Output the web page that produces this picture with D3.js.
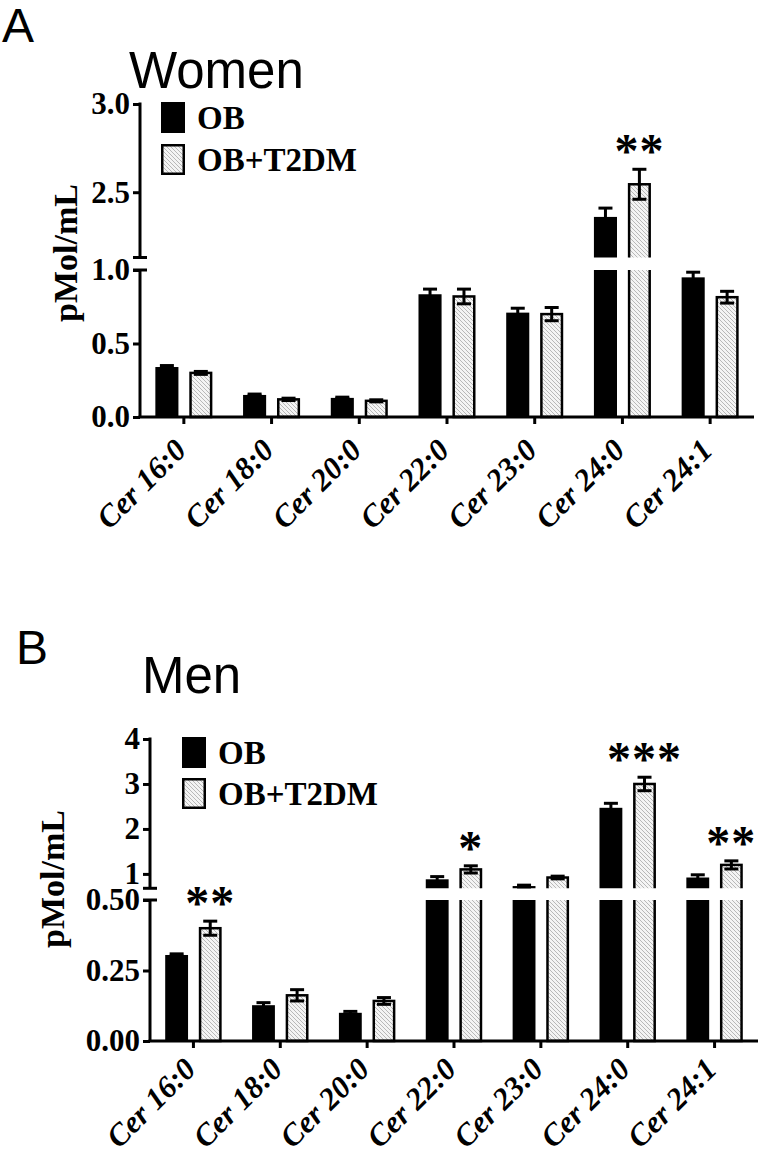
<!DOCTYPE html>
<html><head><meta charset="utf-8">
<script src="https://cdn.jsdelivr.net/npm/d3@7"></script>
<style>
html,body{margin:0;padding:0;background:#fff;}
svg{display:block;}
.serif{font-family:"Liberation Serif","Times New Roman",serif;font-weight:bold;}
.sans{font-family:"Liberation Sans",Arial,sans-serif;}
</style></head>
<body>
<script>
// ---------- data ----------
const categories = ["Cer 16:0","Cer 18:0","Cer 20:0","Cer 22:0","Cer 23:0","Cer 24:0","Cer 24:1"];
const seriesNames = ["OB","OB+T2DM"];

const womenOB      = [0.34, 0.15, 0.13, 0.835, 0.71, 2.36, 0.95];
const womenOBErr   = [0.01, 0.006, 0.005, 0.035, 0.03, 0.05, 0.035];
const womenT2DM    = [0.30, 0.12, 0.11, 0.82, 0.70, 2.545, 0.815];
const womenT2DMErr = [0.01, 0.008, 0.007, 0.05, 0.045, 0.085, 0.04];
const womenStars   = ["", "", "", "", "", "**", ""];

const menOB        = [0.305, 0.127, 0.10, 0.88, 0.73, 2.47, 0.92];
const menOBErr     = [0.004, 0.009, 0.005, 0.06, 0.02, 0.10, 0.06];
const menT2DM      = [0.40, 0.162, 0.142, 1.10, 0.92, 3.00, 1.20];
const menT2DMErr   = [0.025, 0.02, 0.012, 0.08, 0.03, 0.15, 0.09];
const menStars     = ["**", "", "", "*", "", "***", "**"];

const womenLowerTicks = [0, 0.5, 1.0];
const womenUpperTicks = [2.5, 3.0];
const womenLowerDomain = [0, 1.0];
const womenUpperDomain = [2.13, 3.0];

const menLowerTicks = [0, 0.25, 0.5];
const menUpperTicks = [1, 2, 3, 4];
const menLowerDomain = [0, 0.5];
const menUpperDomain = [0.68, 4];

// ---------- drawing ----------
const W = 762, H = 1153;
const svg = d3.select("body").append("svg").attr("width", W).attr("height", H);
const defs = svg.append("defs");
const pat = defs.append("pattern").attr("id","hatch").attr("patternUnits","userSpaceOnUse")
  .attr("width",4).attr("height",4);
pat.append("rect").attr("width",4).attr("height",4).attr("fill","#f4f4f4");
pat.append("path").attr("d","M-1,-1 L5,5 M-1,3 L1,5 M3,-1 L5,1")
  .attr("stroke","#b8b8b8").attr("stroke-width",1);

function panel(cfg) {
  const g = svg.append("g");
  const x0 = d3.scaleBand().domain(categories).range([cfg.axisX, cfg.axisEnd]).paddingInner(0.35).paddingOuter(0.175);
  const x1 = d3.scaleBand().domain(seriesNames).range([0, x0.bandwidth()]).paddingInner(0.32);
  const yL = d3.scaleLinear().domain(cfg.lowerDomain).range([cfg.axisY, cfg.lowerTop]);
  const yU = d3.scaleLinear().domain(cfg.upperDomain).range([cfg.upperBottom, cfg.upperTop]);
  const lowerMax = cfg.lowerDomain[1];
  const yPos = v => v <= lowerMax ? yL(v) : yU(v);

  const idL = cfg.id + "L", idU = cfg.id + "U";
  defs.append("clipPath").attr("id", idL).append("rect")
    .attr("x", 0).attr("width", W).attr("y", cfg.lowerTop).attr("height", cfg.axisY - cfg.lowerTop + 5);
  defs.append("clipPath").attr("id", idU).append("rect")
    .attr("x", 0).attr("width", W).attr("y", 0).attr("height", cfg.upperBottom);

  const gL = g.append("g").attr("clip-path", `url(#${idL})`);
  const gU = g.append("g").attr("clip-path", `url(#${idU})`);

  const series = [
    {name: seriesNames[0], vals: cfg.ob, errs: cfg.obErr},
    {name: seriesNames[1], vals: cfg.t2, errs: cfg.t2Err}
  ];
  const rows = [];
  series.forEach((s, si) => {
    categories.forEach((c, i) => rows.push({c, si, name: s.name, v: s.vals[i], e: s.errs[i]}));
  });

  function drawRect(sel, r, yTop, yBot) {
    const bx = x0(r.c) + x1(r.name);
    const bw = x1.bandwidth();
    if (r.si === 0) {
      sel.append("rect").attr("x", bx).attr("y", yTop).attr("width", bw).attr("height", yBot - yTop).attr("fill", "#000");
    } else {
      sel.append("rect").attr("x", bx + 1.25).attr("y", yTop).attr("width", bw - 2.5).attr("height", yBot - yTop)
        .attr("fill", "url(#hatch)").attr("stroke", "#000").attr("stroke-width", 2.5);
    }
  }

  rows.forEach(r => {
    if (r.v <= lowerMax) {
      drawRect(gL, r, yL(r.v), cfg.axisY);
    } else {
      drawRect(gL, r, cfg.lowerTop - 10, cfg.axisY);
      drawRect(gU, r, yU(r.v), cfg.upperBottom + 10);
    }
  });

  // error bars
  rows.forEach(r => {
    const cx = x0(r.c) + x1(r.name) + x1.bandwidth() / 2;
    const yt = yPos(r.v + r.e), yb = yPos(r.v - r.e);
    const eg = g.append("g").attr("stroke", "#000").attr("stroke-width", 3);
    eg.append("line").attr("x1", cx).attr("x2", cx).attr("y1", yt).attr("y2", yb);
    eg.append("line").attr("x1", cx - 7).attr("x2", cx + 7).attr("y1", yt).attr("y2", yt);
    eg.append("line").attr("x1", cx - 7).attr("x2", cx + 7).attr("y1", yb).attr("y2", yb);
  });

  // significance stars
  categories.forEach((c, i) => {
    if (!cfg.stars[i]) return;
    const cx = x0(c) + x1(seriesNames[1]) + x1.bandwidth() / 2;
    const yt = yPos(cfg.t2[i] + cfg.t2Err[i]);
    g.append("text").attr("class", "serif").attr("x", cx).attr("y", yt - 2)
      .attr("text-anchor", "middle").attr("font-size", 48).attr("font-weight", "normal")
      .style("letter-spacing", "1px").text(cfg.stars[i]);
  });

  // axes
  function styleAxis(sel, fs) {
    sel.selectAll("path,line").attr("stroke", "#000").attr("stroke-width", 3);
    sel.selectAll("text").attr("class", "serif").attr("font-size", fs).attr("fill", "#000");
  }
  const axL = g.append("g").attr("transform", `translate(${cfg.axisX},0)`)
    .call(d3.axisLeft(yL).tickValues(cfg.lowerTicks).tickFormat(d3.format(cfg.lowerFmt)).tickSize(7).tickSizeOuter(0).tickPadding(3));
  styleAxis(axL, cfg.tickFont);
  const axU = g.append("g").attr("transform", `translate(${cfg.axisX},0)`)
    .call(d3.axisLeft(yU).tickValues(cfg.upperTicks).tickFormat(d3.format(cfg.upperFmt)).tickSize(7).tickSizeOuter(0).tickPadding(3));
  styleAxis(axU, cfg.tickFont);
  axL.select(".domain").attr("d", `M0,${cfg.lowerTop}V${cfg.axisY}`);
  axU.select(".domain").attr("d", `M0,${cfg.upperTop - 1.5}V${cfg.upperBottom}`);
  // break marks
  [cfg.upperBottom, cfg.lowerTop].forEach(yy => {
    g.append("line").attr("x1", cfg.axisX - 7).attr("x2", cfg.axisX + 7).attr("y1", yy).attr("y2", yy)
      .attr("stroke", "#000").attr("stroke-width", 3);
  });

  const axX = g.append("g").attr("transform", `translate(0,${cfg.axisY})`)
    .call(d3.axisBottom(x0).tickSize(7).tickSizeOuter(0));
  axX.selectAll("path,line").attr("stroke", "#000").attr("stroke-width", 3);
  axX.select(".domain").attr("d", `M${cfg.axisX - 1.5},0H${cfg.axisEnd}`);
  axX.selectAll("text").attr("class", "serif").attr("font-size", cfg.xFont).attr("font-style", "italic")
    .attr("fill", "#000").attr("text-anchor", "end").attr("dy", null).attr("y", null)
    .attr("transform", `translate(${cfg.xLabDx},${cfg.xLabDy}) rotate(-45)`);

  // y title
  g.append("text").attr("class", "serif").attr("font-size", 34)
    .attr("transform", `translate(${cfg.yTitleX},${cfg.yTitleY}) rotate(-90)`)
    .attr("text-anchor", "middle").text("pMol/mL");

  // titles
  g.append("text").attr("class", "sans").attr("x", cfg.letterX).attr("y", cfg.letterY).attr("font-size", 48).text(cfg.letter);
  g.append("text").attr("class", "sans").attr("x", cfg.titleX).attr("y", cfg.titleY).attr("font-size", 51).text(cfg.title);

  // legend
  const lg = g.append("g");
  seriesNames.forEach((n, i) => {
    const yy = cfg.legY + i * cfg.legStep;
    if (i === 0) lg.append("rect").attr("x", cfg.legX).attr("y", yy).attr("width", 24).attr("height", 31).attr("fill", "#000");
    else lg.append("rect").attr("x", cfg.legX + 1.25).attr("y", yy + 1.25).attr("width", 21.5).attr("height", 28.5)
      .attr("fill", "url(#hatch)").attr("stroke", "#000").attr("stroke-width", 2.5);
    lg.append("text").attr("class", "serif").attr("x", cfg.legX + 36).attr("y", yy + 27).attr("font-size", 33).text(n);
  });
}

panel({
  id: "w", letter: "A", letterX: 2, letterY: 42, title: "Women", titleX: 129, titleY: 88,
  axisX: 140, axisEnd: 754, axisY: 417,
  lowerTop: 270, upperBottom: 257.5, upperTop: 104,
  lowerDomain: womenLowerDomain, upperDomain: womenUpperDomain,
  lowerTicks: womenLowerTicks, upperTicks: womenUpperTicks, lowerFmt: ".1f", upperFmt: ".1f",
  ob: womenOB, obErr: womenOBErr, t2: womenT2DM, t2Err: womenT2DMErr, stars: womenStars,
  tickFont: 31, xFont: 31, xLabDx: 4, xLabDy: 35,
  yTitleX: 77, yTitleY: 253,
  legX: 161, legY: 102, legStep: 42
});

panel({
  id: "m", letter: "B", letterX: 16, letterY: 664, title: "Men", titleX: 142, titleY: 693,
  axisX: 150, axisEnd: 758, axisY: 1041,
  lowerTop: 900, upperBottom: 888.3, upperTop: 739,
  lowerDomain: menLowerDomain, upperDomain: menUpperDomain,
  lowerTicks: menLowerTicks, upperTicks: menUpperTicks, lowerFmt: ".2f", upperFmt: "d",
  ob: menOB, obErr: menOBErr, t2: menT2DM, t2Err: menT2DMErr, stars: menStars,
  tickFont: 31, xFont: 31, xLabDx: 4, xLabDy: 30,
  yTitleX: 64, yTitleY: 879,
  legX: 182, legY: 737, legStep: 41
});
</script>
</body></html>
